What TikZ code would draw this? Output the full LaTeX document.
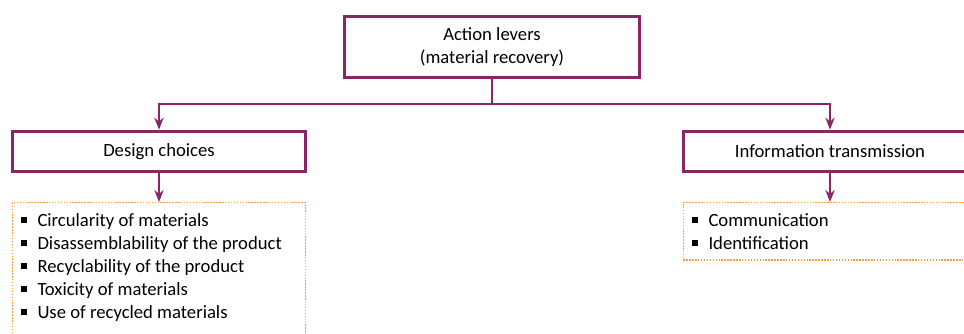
\documentclass[tikz,border=0pt]{standalone}
\usepackage{fontspec}
\setmainfont{Carlito}
\usetikzlibrary{arrows.meta}
\definecolor{plum}{RGB}{139,38,102}
\definecolor{ochre}{RGB}{245,160,60}
\newcommand{\itm}[1]{\rule[0.15em]{0.32em}{0.32em}\hspace{0.55em}#1}
\tikzset{
  lever/.style={draw=plum,line width=2.2pt,fill=white,inner sep=0pt},
  items/.style={draw=ochre,line width=1.1pt,dash pattern=on 1.1pt off 1.1pt,inner sep=0pt},
  link/.style={draw=plum,line width=2.2pt,-{Stealth[length=9pt,width=7pt]}}
}
\begin{document}
\begin{tikzpicture}[x=0.75pt,y=-0.75pt]\fontsize{14}{17.25}\selectfont
      \useasboundingbox (0,0) rectangle (964,334);
      \clip (0,0) rectangle (964,334);
      \node[lever,minimum width=221pt,minimum height=46pt,align=center] (lev) at (492,47) {Action levers\\(material recovery)};
      \node[lever,minimum width=220pt,minimum height=30.5pt] (des) at (159,151.5) {Design choices};
      \node[lever,minimum width=220pt,minimum height=30.5pt] (inf) at (830,151.5) {Information transmission};
      \node[items,minimum width=220pt,minimum height=110pt,anchor=north] (dl) at (159,202) {};
      \node[items,minimum width=220pt,minimum height=43pt,anchor=north] (il) at (830,202) {};
      \node[anchor=north west,align=left,inner sep=0pt] (dlt) at (21,213) {\itm{Circularity of materials}\\\itm{Disassemblability of the product}\\\itm{Recyclability of the product}\\\itm{Toxicity of materials}\\\itm{Use of recycled materials}};
      \node[anchor=north west,align=left,inner sep=0pt] (ilt) at (692,213) {\itm{Communication}\\\itm{Identification}};
      \coordinate (fork) at (492,104);
      \draw[link] (lev.south) -- (fork) -| (des.north);
      \draw[link] (fork) -| (inf.north);
      \draw[link] (des.south) -- (dl.north);
      \draw[link] (inf.south) -- (il.north);
    \end{tikzpicture}
\end{document}
